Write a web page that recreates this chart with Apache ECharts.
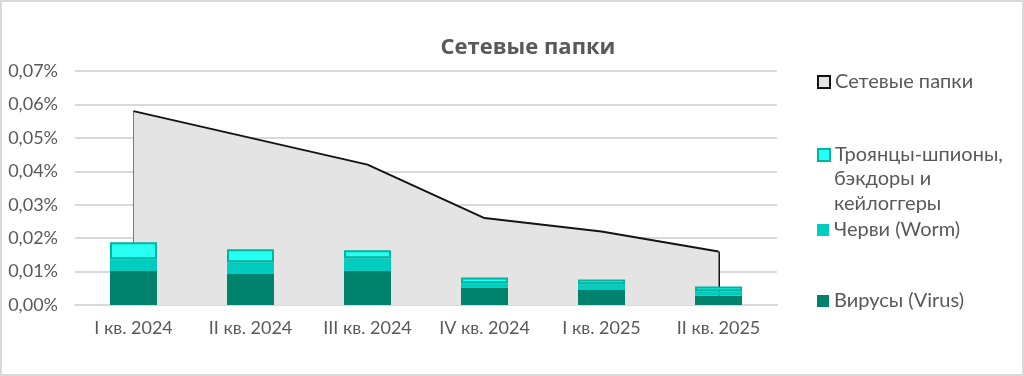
<!DOCTYPE html>
<html><head><meta charset="utf-8">
<script src="https://cdn.jsdelivr.net/npm/echarts@6/dist/echarts.min.js"></script>
<style>
html,body{margin:0;padding:0;background:#fff;}
#c{position:absolute;left:0;top:0;width:1024px;height:376px;}
#f{position:absolute;left:0;top:0;width:1024px;height:376px;box-sizing:border-box;border:2px solid #D9D9D9;pointer-events:none;}
</style></head>
<body><div id="c"></div><div id="f"></div>
<script>
const categories = ['I кв. 2024','II кв. 2024','III кв. 2024','IV кв. 2024','I кв. 2025','II кв. 2025'];
const totalShare = [0.058, 0.050, 0.042, 0.026, 0.022, 0.016];
const virus = [0.0102, 0.0093, 0.0102, 0.0052, 0.0045, 0.0028];
const worm = [0.0035, 0.0035, 0.0038, 0.0013, 0.0017, 0.0013];
const trojans = [0.0051, 0.0039, 0.0024, 0.0017, 0.0014, 0.0014];
const yTicks = [0, 0.01, 0.02, 0.03, 0.04, 0.05, 0.06, 0.07];
const names = ['Сетевые папки','Троянцы-шпионы, бэкдоры и кейлоггеры','Черви (Worm)','Вирусы (Virus)'];
const trojanLines = ['Троянцы-шпионы,','бэкдоры и','кейлоггеры'];

const chart = echarts.init(document.getElementById('c'), null, {renderer:'canvas'});
const font = 'Lato, "Noto Sans", sans-serif';
const txt = '#595959';
const last = categories.length - 1;
const legendFont = 20;

function legendAt(name, top) {
  return {
    data:[name], left: 812, top: top, orient:'vertical',
    itemWidth: 12, itemHeight: 12, itemGap: 0, icon: 'rect',
    textStyle:{color:txt, fontSize:legendFont, fontFamily:font, lineHeight:24},
    formatter: n => n === names[1] ? trojanLines[0] : n
  };
}

chart.setOption({
  animation:false,
  title:{text:'Сетевые папки', left: 523, top: 32, textAlign:'center',
    textStyle:{color:txt, fontSize:22, fontWeight:'bold', fontFamily:'"Open Sans", sans-serif'}},
  legend:[
    legendAt(names[0], 65),
    legendAt(names[1], 138),
    legendAt(names[2], 213),
    legendAt(names[3], 284)
  ],
  graphic:[
    {type:'text', left: 834, top: 169, silent:true,
      style:{text: trojanLines[1], fill: txt, font: legendFont + 'px ' + font}},
    {type:'text', left: 834, top: 194, silent:true,
      style:{text: trojanLines[2], fill: txt, font: legendFont + 'px ' + font}}
  ],
  grid:{left:75, right:247, top:71, bottom:71},
  xAxis:{type:'category', data:categories, boundaryGap:true,
    axisLine:{lineStyle:{color:'#D9D9D9', width:2}}, axisTick:{show:false},
    axisLabel:{color:txt, fontSize:18, fontFamily:font, margin:14, interval:0}},
  yAxis:{type:'value', min:yTicks[0], max:yTicks[yTicks.length-1], interval:0.01,
    axisLine:{show:false}, axisTick:{show:false},
    splitLine:{lineStyle:{color:'#D9D9D9', width:2}},
    axisLabel:{color:txt, fontSize:18, fontFamily:font, margin:17,
      formatter: v => v.toFixed(2).replace('.', ',') + '%'}},
  series:[
    {name:names[0], type:'line', data:totalShare, symbol:'none', z:1,
      lineStyle:{color:'#141414', width:2}, itemStyle:{color:'#E4E4E4', borderColor:'#141414', borderWidth:2},
      areaStyle:{color:'#E4E4E4', opacity:1},
      markLine:{silent:true, symbol:'none', z:1, label:{show:false},
        lineStyle:{color:'#141414', width:2, type:'solid'},
        data:[
          [{coord:[0, 0]}, {coord:[0, totalShare[0]]}],
          [{coord:[last, 0]}, {coord:[last, totalShare[last]]}]
        ]}},
    {name:names[3], type:'bar', stack:'s', data:virus, barWidth:47, z:3,
      itemStyle:{color:'#00826D'}},
    {name:names[2], type:'bar', stack:'s', data:worm, barWidth:47, z:3,
      itemStyle:{color:'#00CCBF'}},
    {name:names[1], type:'bar', stack:'s', data:trojans, barWidth:47, z:3,
      itemStyle:{color:'#27FFF5', borderColor:'#00B59F', borderWidth:2}}
  ]
});
</script>
</body></html>
